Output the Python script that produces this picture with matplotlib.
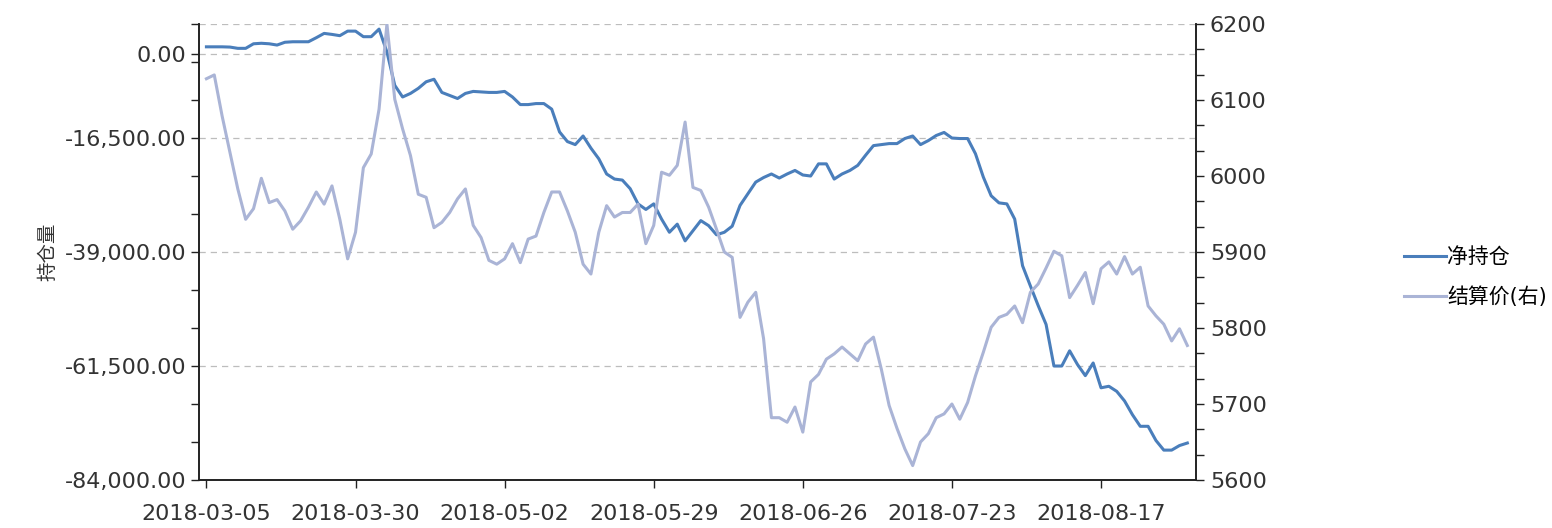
import numpy as np
import pandas as pd
import matplotlib
matplotlib.use('Agg')
import matplotlib.pyplot as plt
from matplotlib.ticker import FuncFormatter

plt.rcParams['font.family'] = ['DejaVu Sans', 'Noto Sans CJK SC']

# trading days (China futures calendar, 2018)
holidays = ['2018-04-05', '2018-04-06', '2018-04-30', '2018-05-01', '2018-06-18']
dates = pd.bdate_range('2018-03-05', '2018-09-03', freq='C', holidays=holidays)

net_position = [
    1500, 1500, 1500, 1450, 1200, 1200, 2100, 2200, 2100, 1850,
    2400, 2500, 2500, 2500, 3300, 4150, 3950, 3700, 4600, 4600,
    3500, 3500, 5000, 500, -6100, -8400, -7700, -6700, -5400, -4900,
    -7500, -8100, -8700, -7700, -7300, -7400, -7500, -7500, -7300, -8400,
    -9900, -9900, -9700, -9700, -10800, -15300, -17200, -17800, -16100, -18500,
    -20600, -23600, -24600, -24800, -26500, -29500, -30600, -29500, -32500, -35100,
    -33500, -36800, -34800, -32800, -33800, -35600, -35100, -33900, -29800, -27500,
    -25200, -24300, -23600, -24400, -23600, -22900, -23800, -24000, -21600, -21600,
    -24600, -23600, -22900, -21900, -19900, -18000, -17800, -17600, -17600, -16600,
    -16100, -17800, -17000, -16000, -15400, -16500, -16600, -16600, -19600, -24200,
    -27900, -29300, -29500, -32500, -41700, -45700, -49600, -53300, -61500, -61500,
    -58500, -61200, -63400, -60900, -65800, -65500, -66500, -68400, -71100, -73400,
    -73400, -76200, -78100, -78100, -77200, -76700,
]

settle_price = [
    6128, 6133, 6079, 6031, 5983, 5943, 5957, 5997, 5965, 5969,
    5954, 5930, 5941, 5959, 5979, 5963, 5987, 5943, 5891, 5926,
    6011, 6029, 6088, 6200, 6101, 6062, 6027, 5976, 5972, 5932,
    5939, 5952, 5970, 5983, 5935, 5919, 5889, 5884, 5891, 5911,
    5886, 5917, 5921, 5952, 5979, 5979, 5954, 5926, 5884, 5871,
    5926, 5961, 5946, 5952, 5952, 5963, 5911, 5935, 6005, 6001,
    6014, 6071, 5985, 5981, 5959, 5930, 5900, 5893, 5814, 5834,
    5847, 5786, 5682, 5682, 5676, 5696, 5663, 5729, 5739, 5759,
    5766, 5775, 5766, 5757, 5779, 5788, 5746, 5698, 5668, 5641,
    5619, 5650, 5661, 5682, 5687, 5700, 5680, 5702, 5737, 5768,
    5801, 5814, 5818, 5829, 5807, 5847, 5858, 5879, 5901, 5895,
    5840, 5856, 5873, 5832, 5878, 5887, 5871, 5894, 5871, 5880,
    5829, 5816, 5805, 5783, 5799, 5777,
]

left_ticks = [-84000, -61500, -39000, -16500, 0, 6000]
right_ticks = [5600, 5700, 5800, 5900, 6000, 6100, 6200]

x = np.arange(len(dates))

fig = plt.figure(figsize=(15.52, 5.28), dpi=100)
ax = fig.add_axes([0.1282, 0.0909, 0.6424, 0.8636])
ax2 = ax.twinx()

l1, = ax.plot(x, net_position, color='#4a7ebb', lw=2.2, label='净持仓')
l2, = ax2.plot(x, settle_price, color='#aab4d6', lw=2.2, label='结算价(右)')

ax.set_xlim(-0.95, 126.1)
ax.set_ylim(-84000, 6000)
ax2.set_ylim(5600, 6200)

xt = x[::19]
ax.set_xticks(xt)
ax.set_xticklabels([d.strftime('%Y-%m-%d') for d in dates[::19]])

ax.set_yticks(left_ticks)
ax.yaxis.set_major_formatter(FuncFormatter(lambda v, p: '' if v > 0 else f'{v:,.2f}'))
ax.set_yticks(np.arange(-84000, 6001, 7500), minor=True)
ax2.set_yticks(right_ticks)
ax2.set_yticks(np.linspace(5600, 6200, 19), minor=True)

ax.grid(axis='y', which='major', color='#bdbdbd', linestyle=(0, (5, 4)), lw=0.9)

for a in (ax, ax2):
    a.spines['top'].set_visible(False)
    for s in a.spines.values():
        s.set_color('#222222')
        s.set_linewidth(1.2)
    a.tick_params(which='both', direction='out', length=6, width=1, colors='#222222',
                  labelcolor='#333333', labelsize=16)
ax.tick_params(axis='x', pad=11)
ax.tick_params(axis='y', pad=3)
ax2.tick_params(axis='y', pad=4)

ax.set_ylabel('持仓量', fontsize=14, color='#333333', labelpad=5)

fig.legend(handles=[l1, l2], loc='center left', bbox_to_anchor=(0.8995, 0.475),
           frameon=False, fontsize=15, handlelength=2.0, handletextpad=0.05,
           labelspacing=0.95, borderaxespad=0)

fig.savefig('out.png', dpi=100)
